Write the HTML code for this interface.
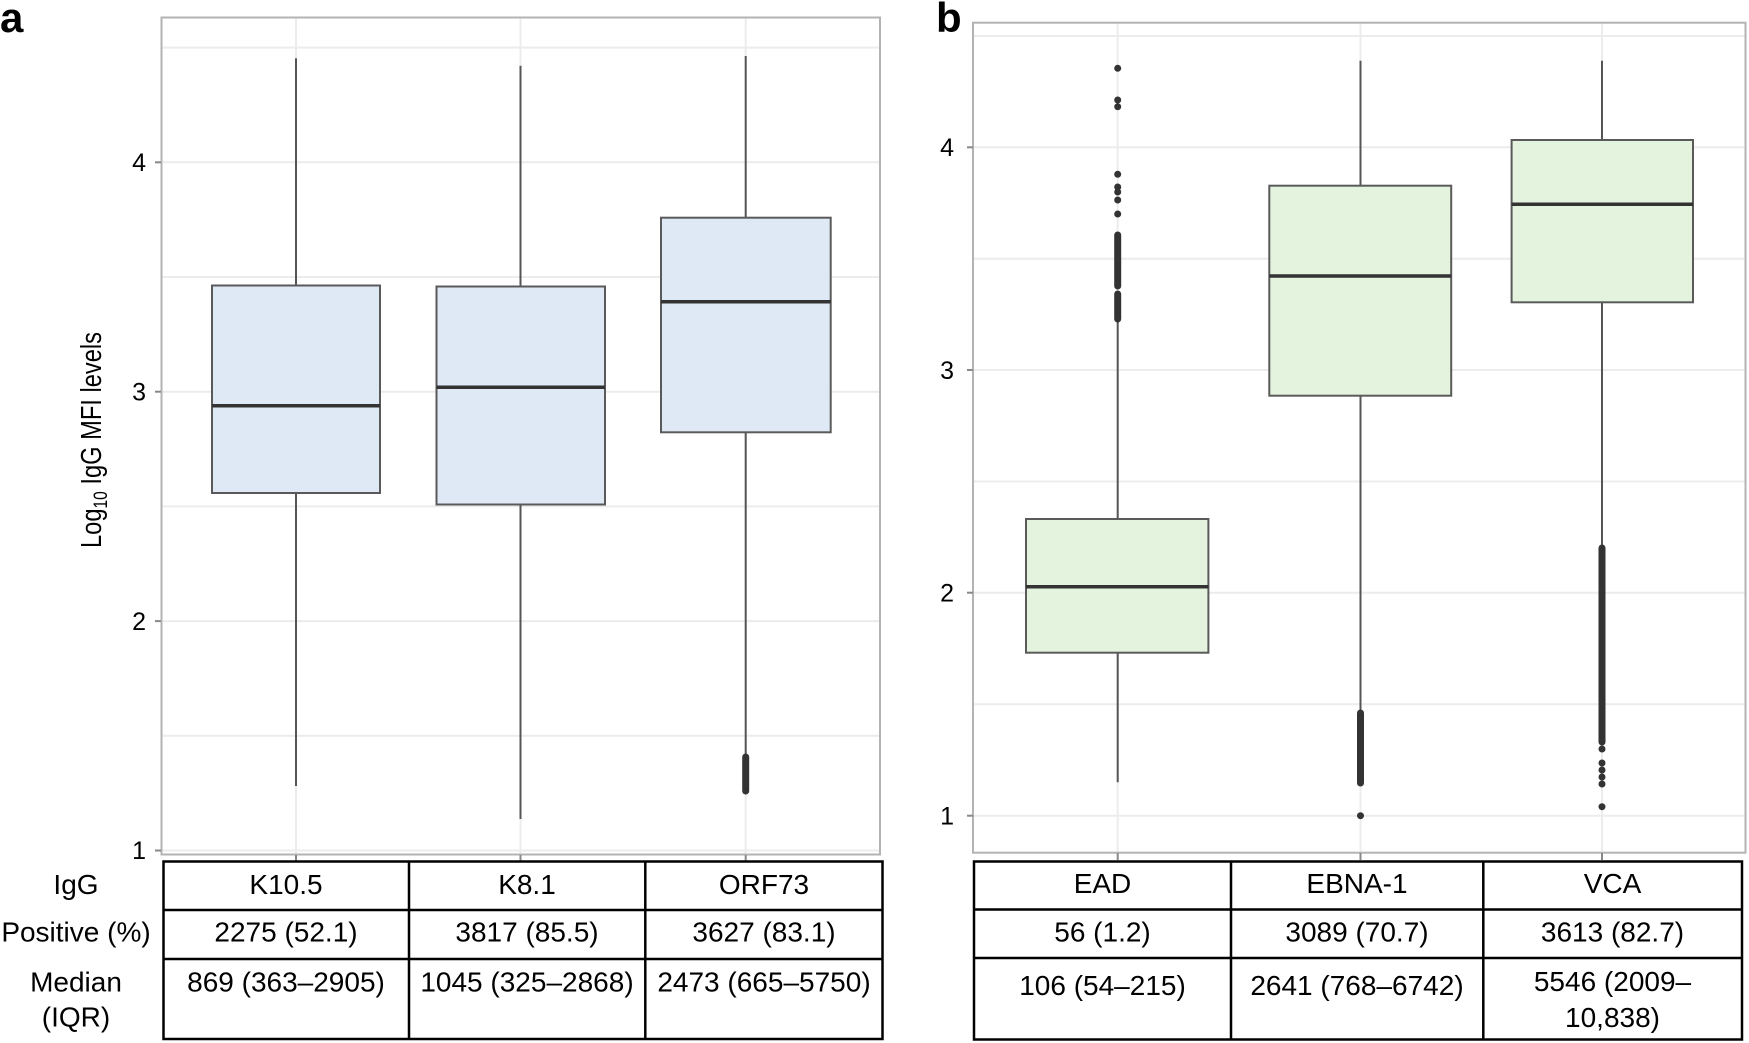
<!DOCTYPE html>
<html>
<head>
<meta charset="utf-8">
<style>
  html, body { margin: 0; padding: 0; background: #ffffff; }
  svg { display: block; }
  text { font-family: "Liberation Sans", Arial, sans-serif; fill: #000; }
</style>
</head>
<body>
<svg width="1749" height="1043" viewBox="0 0 1749 1043" xmlns="http://www.w3.org/2000/svg">
  <rect x="0" y="0" width="1749" height="1043" fill="#ffffff"/>

  <!-- Panel labels -->
  <text x="0" y="32" font-size="42" font-weight="bold">a</text>
  <text x="936" y="32" font-size="42" font-weight="bold">b</text>

  <!-- ================= PANEL A ================= -->
  <g stroke="#ececec" stroke-width="2">
    <line x1="162" y1="47.6" x2="879" y2="47.6"/>
    <line x1="162" y1="162.3" x2="879" y2="162.3"/>
    <line x1="162" y1="277" x2="879" y2="277"/>
    <line x1="162" y1="391.7" x2="879" y2="391.7"/>
    <line x1="162" y1="506.4" x2="879" y2="506.4"/>
    <line x1="162" y1="621.1" x2="879" y2="621.1"/>
    <line x1="162" y1="735.8" x2="879" y2="735.8"/>
    <line x1="162" y1="850.5" x2="879" y2="850.5"/>
    <line x1="296" y1="18" x2="296" y2="854"/>
    <line x1="520.5" y1="18" x2="520.5" y2="854"/>
    <line x1="745.7" y1="18" x2="745.7" y2="854"/>
  </g>
  <rect x="161.5" y="17.5" width="718.5" height="837" fill="none" stroke="#b3b3b3" stroke-width="2"/>
  <g stroke="#888" stroke-width="2">
    <line x1="155" y1="162.3" x2="161" y2="162.3"/>
    <line x1="155" y1="391.7" x2="161" y2="391.7"/>
    <line x1="155" y1="621.1" x2="161" y2="621.1"/>
    <line x1="155" y1="850.5" x2="161" y2="850.5"/>
    <line x1="296" y1="855" x2="296" y2="861"/>
    <line x1="520.5" y1="855" x2="520.5" y2="861"/>
    <line x1="745.7" y1="855" x2="745.7" y2="861"/>
  </g>
  <g font-size="25" text-anchor="end">
    <text x="146" y="171">4</text>
    <text x="146" y="400.5">3</text>
    <text x="146" y="630">2</text>
    <text x="146" y="859">1</text>
  </g>
  <!-- y label -->
  <text transform="translate(101,440) rotate(-90)" font-size="29" text-anchor="middle" textLength="216" lengthAdjust="spacingAndGlyphs">Log<tspan font-size="19" dy="6">10</tspan><tspan dy="-6"> IgG MFI levels</tspan></text>

  <!-- boxes A -->
  <g stroke="#555" stroke-width="2" fill="none">
    <line x1="296" y1="58.3" x2="296" y2="285.5"/>
    <line x1="296" y1="493" x2="296" y2="786"/>
    <line x1="520.5" y1="65.7" x2="520.5" y2="286.5"/>
    <line x1="520.5" y1="504.5" x2="520.5" y2="819"/>
    <line x1="745.7" y1="56" x2="745.7" y2="217.7"/>
    <line x1="745.7" y1="432.3" x2="745.7" y2="756"/>
  </g>
  <g stroke="#5a5a5a" stroke-width="2" fill="#dee9f5">
    <rect x="212" y="285.5" width="168" height="207.5"/>
    <rect x="436.5" y="286.5" width="168.5" height="218"/>
    <rect x="661" y="217.7" width="169.7" height="214.6"/>
  </g>
  <g stroke="#333" stroke-width="3.5">
    <line x1="212" y1="405.7" x2="380" y2="405.7"/>
    <line x1="436.5" y1="387.3" x2="605" y2="387.3"/>
    <line x1="661" y1="301.7" x2="830.7" y2="301.7"/>
  </g>
  <line x1="745.7" y1="757" x2="745.7" y2="791" stroke="#333" stroke-width="7" stroke-linecap="round"/>

  <!-- table A -->
  <g stroke="#000" stroke-width="2.5" fill="none">
    <rect x="163.5" y="861.5" width="719" height="177.5"/>
    <line x1="409" y1="861.5" x2="409" y2="1039"/>
    <line x1="645.3" y1="861.5" x2="645.3" y2="1039"/>
    <line x1="163.5" y1="910" x2="882.5" y2="910"/>
    <line x1="163.5" y1="959" x2="882.5" y2="959"/>
  </g>
  <g font-size="28" text-anchor="middle">
    <text x="76" y="894">IgG</text>
    <text x="76" y="941.7">Positive (%)</text>
    <text x="76" y="991.7">Median</text>
    <text x="76" y="1026.7">(IQR)</text>
    <text x="286" y="894">K10.5</text>
    <text x="527" y="894">K8.1</text>
    <text x="764" y="894">ORF73</text>
    <text x="286" y="941.7">2275 (52.1)</text>
    <text x="527" y="941.7">3817 (85.5)</text>
    <text x="764" y="941.7">3627 (83.1)</text>
    <text x="286" y="991.7">869 (363–2905)</text>
    <text x="527" y="991.7">1045 (325–2868)</text>
    <text x="764" y="991.7">2473 (665–5750)</text>
  </g>

  <!-- ================= PANEL B ================= -->
  <g stroke="#ececec" stroke-width="2">
    <line x1="974" y1="36" x2="1745" y2="36"/>
    <line x1="974" y1="147.3" x2="1745" y2="147.3"/>
    <line x1="974" y1="258.7" x2="1745" y2="258.7"/>
    <line x1="974" y1="370" x2="1745" y2="370"/>
    <line x1="974" y1="481.5" x2="1745" y2="481.5"/>
    <line x1="974" y1="592.7" x2="1745" y2="592.7"/>
    <line x1="974" y1="704.3" x2="1745" y2="704.3"/>
    <line x1="974" y1="815.7" x2="1745" y2="815.7"/>
    <line x1="1117.7" y1="23" x2="1117.7" y2="852"/>
    <line x1="1360.5" y1="23" x2="1360.5" y2="852"/>
    <line x1="1602" y1="23" x2="1602" y2="852"/>
  </g>
  <rect x="973" y="22.7" width="772.5" height="830" fill="none" stroke="#b3b3b3" stroke-width="2"/>
  <g stroke="#888" stroke-width="2">
    <line x1="967" y1="147.3" x2="973" y2="147.3"/>
    <line x1="967" y1="370" x2="973" y2="370"/>
    <line x1="967" y1="592.7" x2="973" y2="592.7"/>
    <line x1="967" y1="815.7" x2="973" y2="815.7"/>
    <line x1="1117.7" y1="853" x2="1117.7" y2="860"/>
    <line x1="1360.5" y1="853" x2="1360.5" y2="860"/>
    <line x1="1602" y1="853" x2="1602" y2="860"/>
  </g>
  <g font-size="25" text-anchor="end">
    <text x="954" y="156">4</text>
    <text x="954" y="379">3</text>
    <text x="954" y="601.5">2</text>
    <text x="954" y="824.5">1</text>
  </g>

  <g stroke="#555" stroke-width="2" fill="none">
    <line x1="1117.7" y1="318" x2="1117.7" y2="519"/>
    <line x1="1117.7" y1="652.7" x2="1117.7" y2="782.3"/>
    <line x1="1360.5" y1="60.7" x2="1360.5" y2="185.7"/>
    <line x1="1360.5" y1="395.7" x2="1360.5" y2="712"/>
    <line x1="1602" y1="60.7" x2="1602" y2="140"/>
    <line x1="1602" y1="302.3" x2="1602" y2="548"/>
  </g>
  <g stroke="#5a5a5a" stroke-width="2" fill="#e3f3de">
    <rect x="1026" y="519" width="182.4" height="133.7"/>
    <rect x="1269.3" y="185.7" width="181.9" height="210"/>
    <rect x="1511.6" y="140" width="181.4" height="162.3"/>
  </g>
  <g stroke="#333" stroke-width="3.5">
    <line x1="1026" y1="586.7" x2="1208.4" y2="586.7"/>
    <line x1="1269.3" y1="276" x2="1451.2" y2="276"/>
    <line x1="1511.6" y1="204.3" x2="1693" y2="204.3"/>
  </g>

  <g fill="#333">
    <circle cx="1117.7" cy="68.3" r="3.5"/>
    <circle cx="1117.7" cy="100" r="3.5"/>
    <circle cx="1117.7" cy="106.7" r="3.5"/>
    <circle cx="1117.7" cy="174.3" r="3.5"/>
    <circle cx="1117.7" cy="187" r="3.5"/>
    <circle cx="1117.7" cy="192" r="3.5"/>
    <circle cx="1117.7" cy="200" r="3.5"/>
    <circle cx="1117.7" cy="214" r="3.5"/>
    <circle cx="1360.5" cy="815.7" r="3.5"/>
    <circle cx="1602" cy="749" r="3.5"/>
    <circle cx="1602" cy="763" r="3.5"/>
    <circle cx="1602" cy="770" r="3.5"/>
    <circle cx="1602" cy="777" r="3.5"/>
    <circle cx="1602" cy="784" r="3.5"/>
    <circle cx="1602" cy="806.7" r="3.5"/>
  </g>
  <g stroke="#333" stroke-width="7" stroke-linecap="round">
    <line x1="1117.7" y1="235" x2="1117.7" y2="286"/>
    <line x1="1117.7" y1="294" x2="1117.7" y2="319"/>
    <line x1="1360.5" y1="713" x2="1360.5" y2="783"/>
    <line x1="1602" y1="548" x2="1602" y2="742"/>
  </g>

  <!-- table B -->
  <g stroke="#000" stroke-width="2.5" fill="none">
    <rect x="974" y="861.5" width="768" height="178"/>
    <line x1="1231" y1="861.5" x2="1231" y2="1039.5"/>
    <line x1="1483.3" y1="861.5" x2="1483.3" y2="1039.5"/>
    <line x1="974" y1="909.5" x2="1742" y2="909.5"/>
    <line x1="974" y1="958" x2="1742" y2="958"/>
  </g>
  <g font-size="28" text-anchor="middle">
    <text x="1102.5" y="893">EAD</text>
    <text x="1357" y="893">EBNA-1</text>
    <text x="1612.5" y="893">VCA</text>
    <text x="1102.5" y="941.7">56 (1.2)</text>
    <text x="1357" y="941.7">3089 (70.7)</text>
    <text x="1612.5" y="941.7">3613 (82.7)</text>
    <text x="1102.5" y="995">106 (54–215)</text>
    <text x="1357" y="995">2641 (768–6742)</text>
    <text x="1612.5" y="991">5546 (2009–</text>
    <text x="1612.5" y="1027">10,838)</text>
  </g>
</svg>
</body>
</html>
